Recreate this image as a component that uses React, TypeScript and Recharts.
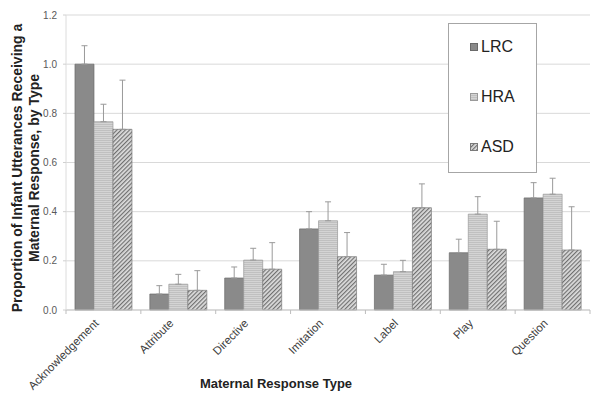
import { BarChart, Bar, XAxis, YAxis, CartesianGrid, ErrorBar, Legend } from "recharts";

const categories = ["Acknowledgement", "Attribute", "Directive", "Imitation", "Label", "Play", "Question"];

const lrc = [1.0, 0.065, 0.13, 0.33, 0.142, 0.233, 0.456];
const hra = [0.766, 0.105, 0.203, 0.363, 0.156, 0.39, 0.471];
const asd = [0.735, 0.08, 0.166, 0.217, 0.416, 0.247, 0.244];

// upper error bar length (SE)
const lrcErr = [0.075, 0.034, 0.045, 0.07, 0.044, 0.055, 0.062];
const hraErr = [0.071, 0.04, 0.048, 0.077, 0.046, 0.071, 0.065];
const asdErr = [0.2, 0.08, 0.108, 0.098, 0.097, 0.114, 0.176];

const yTicks = [0, 0.2, 0.4, 0.6, 0.8, 1.0, 1.2];

const series = [
  { key: "LRC", fill: "#8a8a8a", stroke: "#6a6a6a" },
  { key: "HRA", fill: "url(#hraPattern)", stroke: "#9a9a9a" },
  { key: "ASD", fill: "url(#asdPattern)", stroke: "#7a7a7a" },
];

const data = categories.map((name, i) => ({
  name,
  LRC: lrc[i],
  HRA: hra[i],
  ASD: asd[i],
  LRCerr: [0, lrcErr[i]],
  HRAerr: [0, hraErr[i]],
  ASDerr: [0, asdErr[i]],
}));

const FONT = "'Liberation Sans', Arial, sans-serif";

const XTick = ({ x, y, payload, index, visibleTicksCount }: any) => {
  const half = payload.offset || 0;
  return (
    <g>
      {half > 0 && <line x1={x - half} x2={x - half} y1={y - 6} y2={y - 2} stroke="#bdbdbd" />}
      {half > 0 && index === visibleTicksCount - 1 && (
        <line x1={x + half} x2={x + half} y1={y - 6} y2={y - 2} stroke="#bdbdbd" />
      )}
      <text
        x={x - 4}
        y={y + 8}
        transform={`rotate(-45, ${x - 4}, ${y + 8})`}
        textAnchor="end"
        fontSize={11.5}
        fontFamily={FONT}
        fill="#404040"
      >
        {payload.value}
      </text>
    </g>
  );
};

const LegendBox = () => (
  <div
    style={{
      width: 89,
      height: 150,
      border: "1px solid #a6a6a6",
      background: "#fff",
      boxSizing: "border-box",
      fontFamily: FONT,
      fontSize: 16,
      color: "#222",
    }}
  >
    {series.map((s, i) => (
      <div
        key={s.key}
        style={{ position: "absolute", left: 22, top: 15 + i * 50, display: "flex", alignItems: "center" }}
      >
        <svg width={9} height={9} style={{ marginRight: 2 }}>
          <rect x={0.5} y={0.5} width={7} height={7} fill={s.fill} stroke={s.stroke} />
        </svg>
        <span>{s.key}</span>
      </div>
    ))}
  </div>
);

export default function App() {
  return (
    <div style={{ position: "absolute", left: 0, top: 0, width: 601, height: 409, background: "#fff" }}>
      <BarChart
        width={601}
        height={409}
        data={data}
        margin={{ top: 15, right: 11, left: 0, bottom: 0 }}
        barCategoryGap="12%"
        barGap={0}
      >
        <defs>
          <pattern id="hraPattern" width={4} height={2} patternUnits="userSpaceOnUse">
            <rect width={4} height={2} fill="#d4d4d4" />
            <rect width={4} height={1} fill="#c0c0c0" />
          </pattern>
          <pattern id="asdPattern" width={3} height={3} patternUnits="userSpaceOnUse" patternTransform="rotate(45)">
            <rect width={3} height={3} fill="#dedede" />
            <rect width={1.2} height={3} fill="#707070" />
          </pattern>
        </defs>
        <CartesianGrid vertical={false} stroke="#d9d9d9" />
        <XAxis
          dataKey="name"
          height={99}
          interval={0}
          tick={<XTick />}
          tickLine={false}
          tickSize={4}
          tickMargin={2}
          axisLine={{ stroke: "#c8c8c8" }}
          label={{
            content: () => (
              <text
                x={276}
                y={388}
                textAnchor="middle"
                fontSize={13}
                fontWeight="bold"
                fontFamily={FONT}
                fill="#222"
              >
                Maternal Response Type
              </text>
            ),
          }}
        />
        <YAxis
          width={66}
          domain={[0, 1.2]}
          ticks={yTicks}
          tickFormatter={(v: number) => v.toFixed(1)}
          tick={{ fontSize: 10, fontFamily: FONT, fill: "#595959" }}
          axisLine={{ stroke: "#dcdcdc" }}
          tickLine={{ stroke: "#d0d0d0" }}
          tickSize={3}
          tickMargin={6}
          label={{
            content: () => (
              <text
                transform="translate(26, 168) rotate(-90)"
                textAnchor="middle"
                fontSize={14}
                fontWeight="bold"
                fontFamily={FONT}
                fill="#222"
              >
                <tspan x={0} y={-4}>Proportion of Infant Utterances Receiving a</tspan>
                <tspan x={0} y={13}>Maternal Response, by Type</tspan>
              </text>
            ),
          }}
        />
        <Legend
          layout="vertical"
          align="center"
          verticalAlign="middle"
          wrapperStyle={{ position: "absolute", left: 448, top: 23, width: 89, height: 150 }}
          content={() => <LegendBox />}
        />
        {series.map((s) => (
          <Bar key={s.key} dataKey={s.key} fill={s.fill} stroke={s.stroke} strokeWidth={0.7} isAnimationActive={false}>
            <ErrorBar dataKey={`${s.key}err`} width={3} stroke="#9a9a9a" strokeWidth={1} />
          </Bar>
        ))}
      </BarChart>
    </div>
  );
}
